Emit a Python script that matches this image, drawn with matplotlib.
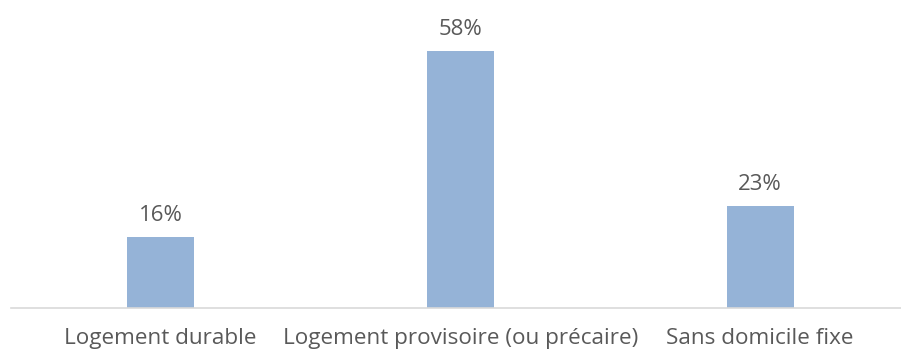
import numpy as np
from matplotlib import pyplot as plt

categories = ["Logement durable", "Logement provisoire (ou précaire)", "Sans domicile fixe"]
values = [16, 58, 23]
labels = ["16%", "58%", "23%"]

plt.rcParams['font.family'] = ['Open Sans', 'DejaVu Sans']

fig = plt.figure(figsize=(9.01, 3.54), dpi=100)
ax = fig.add_axes([10.75 / 901, 46 / 354, 1 - 10.75 / 901, 308 / 354])

x = np.arange(len(categories))
ax.bar(x, values, width=0.224, color="#95B3D7")
for xi, v, lab in zip(x, values, labels):
    ax.annotate(lab, (xi, v), xytext=(0, 8), textcoords="offset points",
                ha="center", va="bottom", fontsize=16, color="#595959")

ax.set_xlim(-0.5, 2.47)
ax.set_ylim(0, 69.5)
ax.set_xticks(x)
ax.set_xticklabels(categories, fontsize=16.2, color="#595959")
ax.tick_params(axis="x", length=0, pad=14.5)
ax.set_yticks([])
for s in ["top", "right", "left"]:
    ax.spines[s].set_visible(False)
ax.spines["bottom"].set_color("#D9D9D9")
ax.spines["bottom"].set_linewidth(1.2)

fig.savefig("out.png", dpi=100)
